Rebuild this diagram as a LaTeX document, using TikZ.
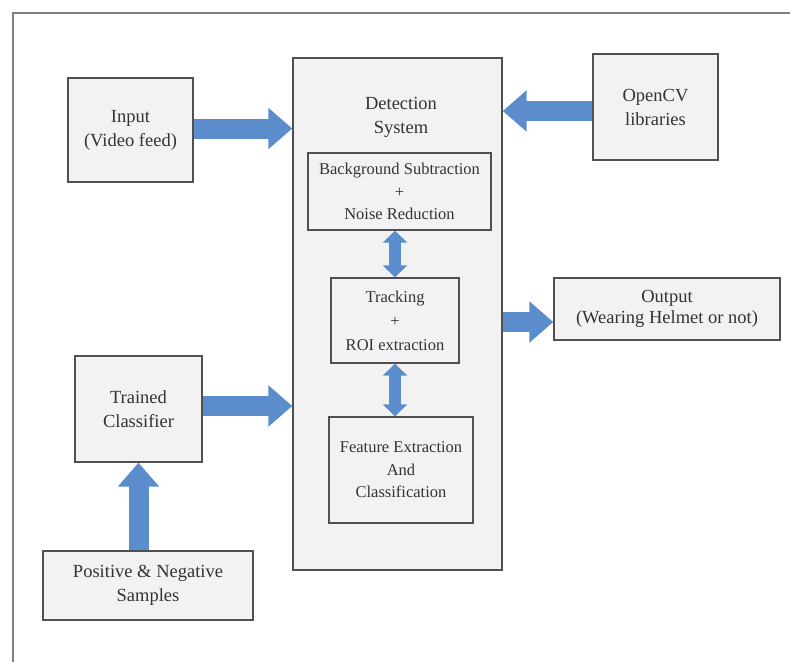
\documentclass[tikz,border=0pt]{standalone}
\usepackage{fontspec}
\setmainfont{Liberation Serif}
\usepackage{tikz}
\usetikzlibrary{arrows.meta,positioning}

\definecolor{flowblue}{RGB}{91,141,205}
\definecolor{boxgray}{RGB}{242,242,242}
\definecolor{edgegray}{RGB}{80,80,80}

\tikzset{
    block/.style={draw=edgegray, line width=1.4pt, fill=boxgray, align=center,
        inner sep=0pt, text=black!80, font=\fontsize{18.5}{24}\selectfont},
    inblock/.style={block, font=\fontsize{16.5}{22.5}\selectfont},
    flow/.style={draw=flowblue, line width=20pt, -{Triangle[length=24pt,width=40pt]}},
    twoway/.style={draw=flowblue, line width=12pt,
        {Triangle[length=12pt,width=24pt]}-{Triangle[length=12pt,width=24pt]}}
}

\begin{document}
\begin{tikzpicture}[x=1pt,y=-1pt]
        \useasboundingbox (0,0) rectangle (790,662);
        % frame
        \draw[gray, line width=1.5pt] (790,13) -- (13,13) -- (13,662);
        % outer blocks
        \node[block, minimum width=125pt, minimum height=104pt] (input) at (130.5,130) {Input\\(Video feed)};
        \node[block, minimum width=209pt, minimum height=512pt] (detect) at (397.5,314) {};
        \node[block, minimum width=125pt, minimum height=106pt] (opencv) at (655.5,107) {OpenCV\\libraries};
        \node[block, minimum width=226pt, minimum height=62pt, font=\fontsize{18.5}{21}\selectfont] (output) at (667,309) {Output\\(Wearing Helmet or not)};
        \node[block, minimum width=127pt, minimum height=106pt] (trained) at (138.5,409) {Trained\\Classifier};
        \node[block, minimum width=210pt, minimum height=69pt] (samples) at (148,585.5) {Positive \& Negative\\Samples};
        % inside the detection system
        \node[align=center, text=black!80, font=\fontsize{18.5}{24}\selectfont] (detlabel) at (401,117) {Detection\\System};
        \node[inblock, minimum width=183pt, minimum height=77pt] (bgsub) at (399.5,191.5) {Background Subtraction\\+\\Noise Reduction};
        \node[inblock, minimum width=128pt, minimum height=85pt, font=\fontsize{16.5}{24}\selectfont] (track) at (395,320.5) {Tracking\\+\\ROI extraction};
        \node[inblock, minimum width=144pt, minimum height=106pt] (feature) at (401,470) {Feature Extraction\\And\\Classification};
        % arrows
        \draw[flow] ([yshift=1.5pt]input.east) -- ([yshift=1.5pt]input.east -| detect.west);
        \draw[flow] ([yshift=-4pt]opencv.west) -- ([yshift=-4pt]opencv.west -| detect.east);
        \draw[flow] ([yshift=3pt]trained.east) -- ([yshift=3pt]trained.east -| detect.west);
        \draw[flow] ([yshift=-13pt]output.west -| detect.east) -- ([yshift=-13pt]output.west);
        \draw[flow] (trained.south |- samples.north) -- (trained.south);
        \draw[twoway] (bgsub.south -| track.north) -- (track.north);
        \draw[twoway] (track.south) -- (track.south |- feature.north);
    \end{tikzpicture}
\end{document}
